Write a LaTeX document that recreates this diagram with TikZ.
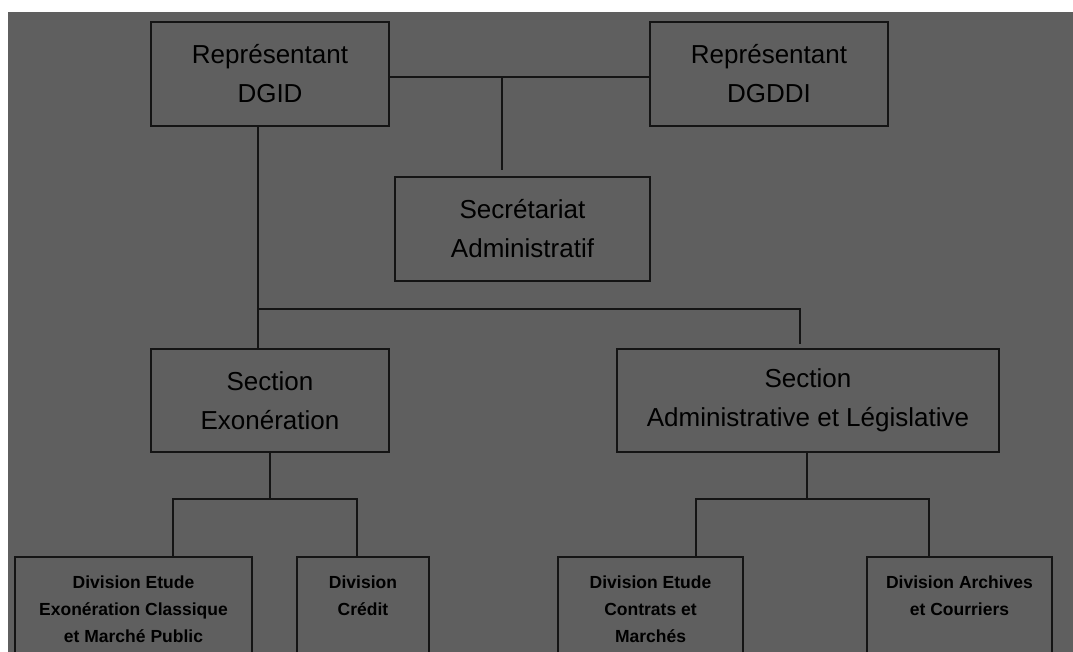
\documentclass[tikz,border=0pt]{standalone}
\usepackage{fontspec}
\setmainfont{Liberation Sans}
\definecolor{bggray}{RGB}{95,95,95}
\definecolor{inkline}{RGB}{20,20,20}
\tikzset{
  box/.style={draw=inkline, line width=1.6pt, rectangle, inner sep=0pt, align=center,
    text=black, font=\fontsize{26}{39}\selectfont},
  divbox/.style={draw=inkline, line width=1.6pt, rectangle, inner xsep=0pt, inner ysep=19pt,
    anchor=north, text=black, font=\bfseries\fontsize{17.5}{27}\selectfont},
  link/.style={draw=inkline, line width=1.6pt}
}
\newcommand{\divtext}[2]{\parbox[t][150pt][t]{#1}{\centering #2}}
\begin{document}
\begin{tikzpicture}[x=1pt,y=-1pt]
\useasboundingbox (0,0) rectangle (1073,652);
\clip (0,0) rectangle (1073,652);
\fill[white] (0,0) rectangle (1073,652);
\fill[bggray] (8,12) rectangle (1073,652);

\node[box, minimum width=238pt, minimum height=104pt] (dgid) at (270,74) {Représentant\\DGID};
\node[box, minimum width=238pt, minimum height=104pt] (dgddi) at (769,74) {Représentant\\DGDDI};
\node[box, minimum width=255pt, minimum height=104pt] (sec) at (522.5,229) {Secrétariat\\Administratif};
\node[box, minimum width=238pt, minimum height=103pt] (exo) at (270,400.5) {Section\\Exonération};
\node[box, minimum width=382pt, minimum height=103pt] (adm) at (808,400.5) {Section\\Administrative et Législative};

\node[divbox] (d1) at (133.5,556) {\divtext{237pt}{Division Etude\\Exonération Classique\\et Marché Public}};
\node[divbox] (d2) at (363,556) {\divtext{132pt}{Division\\Crédit}};
\node[divbox] (d3) at (650.5,556) {\divtext{185pt}{Division Etude\\Contrats et\\Marchés}};
\node[divbox] (d4) at (959.5,556) {\divtext{185pt}{Division Archives\\et Courriers}};

% top connectors
\draw[link] ([yshift=-3pt]dgid.east) -- ([yshift=-3pt]dgddi.west);
\coordinate (j1) at (502,78);
\draw[link, shorten >=6pt] (j1) -- (j1 |- sec.north);

\coordinate (j2) at (258,309);
\coordinate (j3) at (800,309);
\draw[link] ([xshift=-12pt]dgid.south) -- ([xshift=-12pt]exo.north);
\draw[link, shorten >=4pt] (j2) -- (j3) -- (j3 |- adm.north);

% section exoneration branch
\coordinate (j4) at (270,499);
\coordinate (b1) at (173,499);
\coordinate (b2) at (357,499);
\draw[link] (exo.south) -- (j4);
\draw[link] (b1 |- d1.north) -- (b1) -- (b2) -- (b2 |- d2.north);

% section administrative branch
\coordinate (j5) at (807,499);
\coordinate (b3) at (696,499);
\coordinate (b4) at (929,499);
\draw[link] (j5 |- adm.south) -- (j5);
\draw[link] (b3 |- d3.north) -- (b3) -- (b4) -- (b4 |- d4.north);
\end{tikzpicture}
\end{document}
